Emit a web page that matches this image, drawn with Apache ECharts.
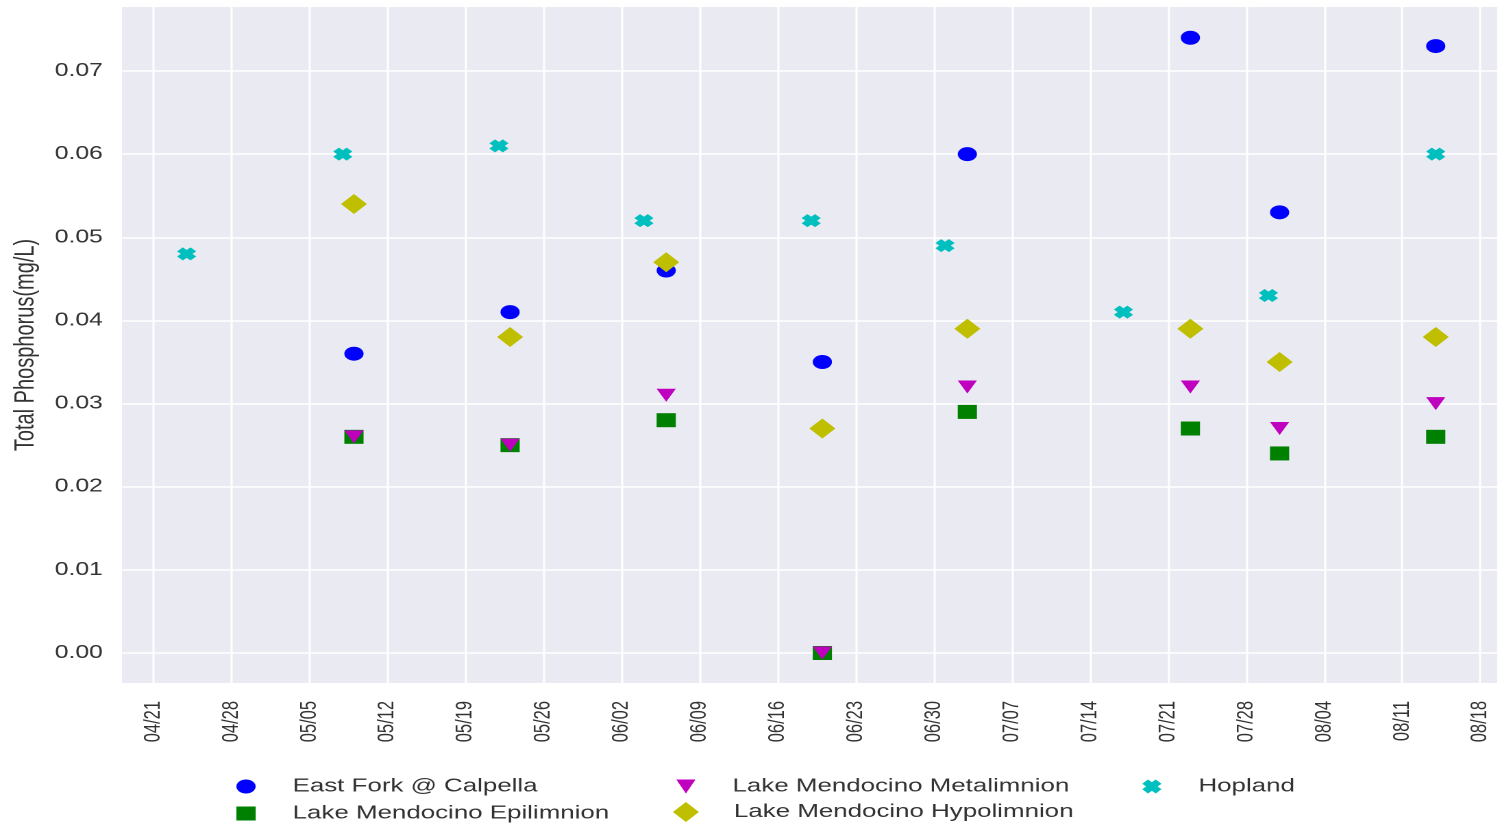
<!DOCTYPE html>
<html>
<head>
<meta charset="utf-8">
<script src="https://cdn.jsdelivr.net/npm/echarts@6/dist/echarts.min.js"></script>
<style>
  html, body { margin: 0; padding: 0; background: #ffffff; overflow: hidden; }
  #chart { position: absolute; left: 0; top: 0; width: 1096px; height: 832px;
           transform: scaleX(1.37044); transform-origin: 0 0; }
</style>
</head>
<body>
<div id="chart"></div>
<script>
// ---- data ----
const lakeDates = ['2019-05-09','2019-05-23','2019-06-06','2019-06-20','2019-07-03','2019-07-23','2019-07-31','2019-08-14'];
const hoplandDates = ['2019-04-24','2019-05-08','2019-05-22','2019-06-04','2019-06-19','2019-07-01','2019-07-17','2019-07-30','2019-08-14'];
const eastFork    = [0.036, 0.041, 0.046, 0.035, 0.060, 0.074, 0.053, 0.073];
const epilimnion  = [0.026, 0.025, 0.028, 0.000, 0.029, 0.027, 0.024, 0.026];
const metalimnion = [0.026, 0.025, 0.031, 0.000, 0.032, 0.032, 0.027, 0.030];
const hypolimnion = [0.054, 0.038, 0.047, 0.027, 0.039, 0.039, 0.035, 0.038];
const hopland     = [0.048, 0.060, 0.061, 0.052, 0.052, 0.049, 0.041, 0.043, 0.060];
const xTickLabels = ['04/21','04/28','05/05','05/12','05/19','05/26','06/02','06/09','06/16','06/23','06/30','07/07','07/14','07/21','07/28','08/04','08/11','08/18'];
const yTicks = [0.00, 0.01, 0.02, 0.03, 0.04, 0.05, 0.06, 0.07];

// ---- helpers ----
const YEAR = 2019;
const origin = Date.UTC(YEAR, 3, 21);
function dayOf(s) {
  const p = s.split('-').map(Number);
  return Math.round((Date.UTC(p[0], p[1] - 1, p[2]) - origin) / 86400000);
}
function dayOfLabel(l) {
  const p = l.split('/').map(Number);
  return Math.round((Date.UTC(YEAR, p[0] - 1, p[1]) - origin) / 86400000);
}
function labelOfDay(d) {
  const dt = new Date(origin + Math.round(d) * 86400000);
  const m = String(dt.getUTCMonth() + 1).padStart(2, '0');
  const dd = String(dt.getUTCDate()).padStart(2, '0');
  return m + '/' + dd;
}
const xTickDays = xTickLabels.map(dayOfLabel);
function pairs(dates, vals) { return dates.map((d, i) => [dayOf(d), vals[i]]); }

const FONT = "'Liberation Sans', Arial, Helvetica, sans-serif";
const TXT = '#333333';
const xPath = 'path://M0,3 L3,0 L5,2 L7,0 L10,3 L8,5 L10,7 L7,10 L5,8 L3,10 L0,7 L2,5 Z';
const triDown = 'path://M0,0 L10,0 L5,10 Z';

const chart = echarts.init(document.getElementById('chart'), null, { devicePixelRatio: 2 });
function legendCfg(extra, padLeft) {
  return Object.assign({
    orient: 'vertical', top: 777, itemWidth: 14, itemHeight: 14, itemGap: 8, padding: 0,
    selectedMode: false,
    textStyle: { fontFamily: FONT, fontSize: 18.9, color: TXT, padding: [0, 0, 0, padLeft] }
  }, extra);
}
chart.setOption({
  animation: false,
  backgroundColor: '#ffffff',
  grid: { left: 89, right: 3.6, top: 7, bottom: 149, show: true, backgroundColor: '#EAEAF2', borderWidth: 0 },
  legend: [
    legendCfg({ left: 172.5, data: ['East Fork @ Calpella', 'Lake Mendocino Epilimnion'] }, 22),
    legendCfg({ left: 493.5, data: ['Lake Mendocino Metalimnion'] }, 22),
    legendCfg({ left: 491, top: 802, itemWidth: 19, itemHeight: 20, data: ['Lake Mendocino Hypolimnion'] }, 20.5),
    legendCfg({ left: 833.5, data: ['Hopland'] }, 22)
  ],
  xAxis: {
    type: 'value', min: -2.8, max: 120.5,
    axisLine: { show: false },
    axisTick: { show: false, customValues: xTickDays },
    axisLabel: {
      customValues: xTickDays, rotate: 90, margin: 18, padding: [0, 0, 8, 0],
      fontFamily: FONT, fontSize: 16.5, color: TXT,
      formatter: v => labelOfDay(v)
    },
    splitLine: { show: true, lineStyle: { color: '#ffffff', width: 1.5 } }
  },
  yAxis: {
    type: 'value', min: -0.00361, max: 0.0777,
    name: 'Total Phosphorus(mg/L)', nameLocation: 'middle', nameGap: 58,
    nameTextStyle: { fontFamily: FONT, fontSize: 20, color: TXT },
    axisLine: { show: false },
    axisTick: { show: false, customValues: yTicks },
    axisLabel: { customValues: yTicks, margin: 14, fontFamily: FONT, fontSize: 18, color: TXT,
      formatter: v => Number(v).toFixed(2) },
    splitLine: { show: true, lineStyle: { color: '#ffffff', width: 1.5 } }
  },
  series: [
    { name: 'East Fork @ Calpella', type: 'scatter', symbol: 'circle', symbolSize: 14,
      itemStyle: { color: '#0000FF', opacity: 1 }, data: pairs(lakeDates, eastFork) },
    { name: 'Lake Mendocino Epilimnion', type: 'scatter', symbol: 'rect', symbolSize: [14, 14],
      itemStyle: { color: '#008000', opacity: 1 }, data: pairs(lakeDates, epilimnion) },
    { name: 'Lake Mendocino Metalimnion', type: 'scatter', symbol: triDown, symbolSize: [14, 13],
      itemStyle: { color: '#BF00BF', opacity: 1 }, data: pairs(lakeDates, metalimnion) },
    { name: 'Lake Mendocino Hypolimnion', type: 'scatter', symbol: 'diamond', symbolSize: [19, 20],
      itemStyle: { color: '#BFBF00', opacity: 1 }, data: pairs(lakeDates, hypolimnion) },
    { name: 'Hopland', type: 'scatter', symbol: xPath, symbolSize: [14, 13],
      itemStyle: { color: '#00BFBF', opacity: 1 }, data: pairs(hoplandDates, hopland) }
  ]
});
</script>
</body>
</html>
